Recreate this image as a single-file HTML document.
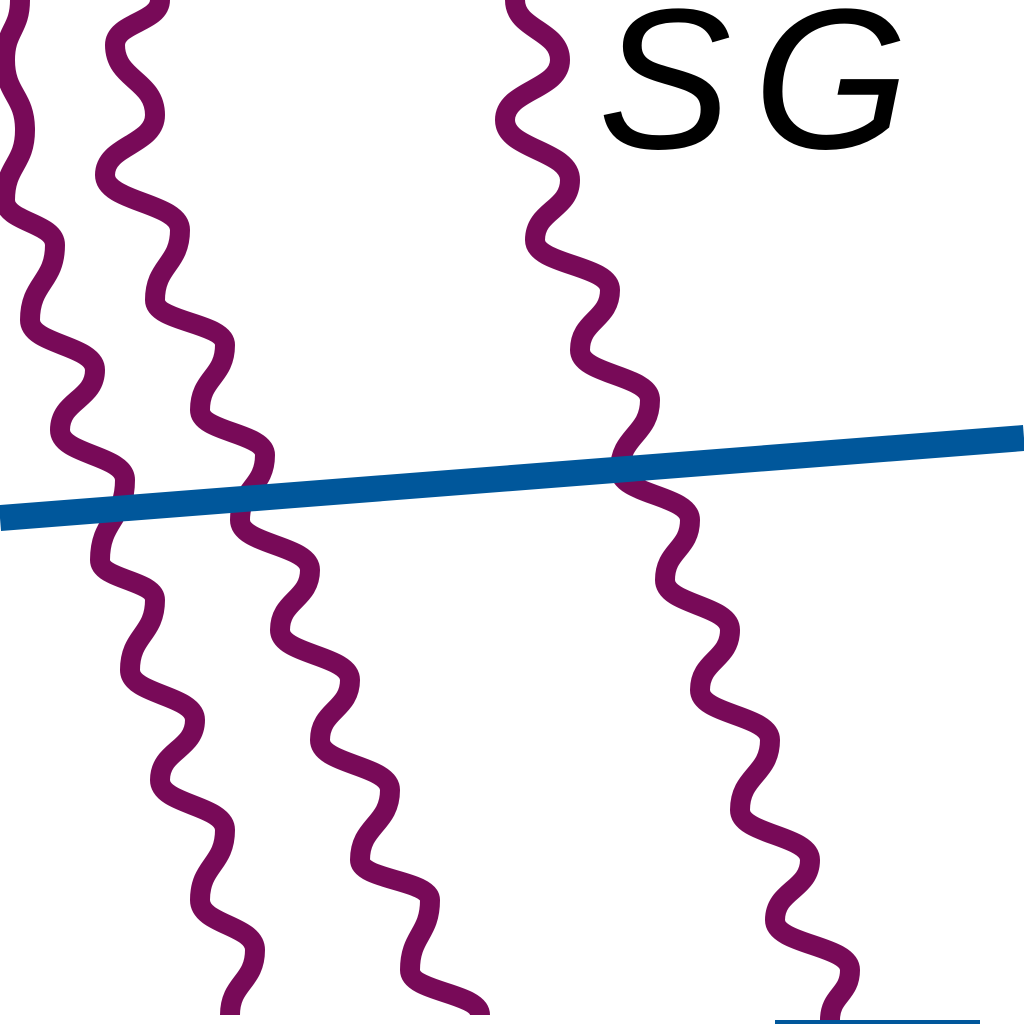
<!DOCTYPE html>
<html><head><meta charset="utf-8">
<style>html,body{margin:0;padding:0;background:#fff;width:1024px;height:1024px;overflow:hidden}</style>
</head><body>
<svg width="1024" height="1024" viewBox="0 0 1024 1024" xmlns="http://www.w3.org/2000/svg">
<rect width="1024" height="1024" fill="#fff"/>
<g id="waves"></g>
<line x1="0" y1="518" x2="1024" y2="438" stroke="#00579b" stroke-width="26"/>
<line x1="775" y1="1024" x2="980" y2="1024" stroke="#00579b" stroke-width="8"/>
<text x="598" y="148" font-family="Liberation Sans, sans-serif" font-style="italic" font-size="200" fill="#000" letter-spacing="22">SG</text>
</svg>
<script>
const wave1Y=[0,60,130,200,245,320,370,430,480,560,600,670,720,780,830,900,950,1015];
const wave1X=[20,5,25,5,55,30,95,60,125,100,155,130,195,160,225,200,255,230];
const wave2Y=[0,45,115,175,230,300,345,410,455,520,570,630,680,740,790,860,900,970,1015];
const wave2X=[160,115,155,105,180,155,225,200,265,240,310,280,350,320,390,360,430,410,480];
const wave3Y=[0,60,120,180,240,290,350,400,470,520,580,630,690,740,810,860,920,970,1020];
const wave3X=[515,560,505,570,535,610,580,650,620,690,665,730,700,770,740,810,775,850,830];
const g=document.getElementById('waves');
function draw(xs,ys,name){
  let d='M'+xs[0]+','+ys[0];
  for(let i=1;i<xs.length;i++){
    const my=(ys[i-1]+ys[i])/2;
    d+=' C'+xs[i-1]+','+my+' '+xs[i]+','+my+' '+xs[i]+','+ys[i];
  }
  const p=document.createElementNS('http://www.w3.org/2000/svg','path');
  p.setAttribute('d',d);p.setAttribute('fill','none');p.setAttribute('stroke','#780a58');p.setAttribute('stroke-width','20');
  
  
  g.appendChild(p);
}
draw(wave1X,wave1Y,'wave-line-1');
draw(wave2X,wave2Y,'wave-line-2');
draw(wave3X,wave3Y,'wave-line-3');
</script>
</body></html>
